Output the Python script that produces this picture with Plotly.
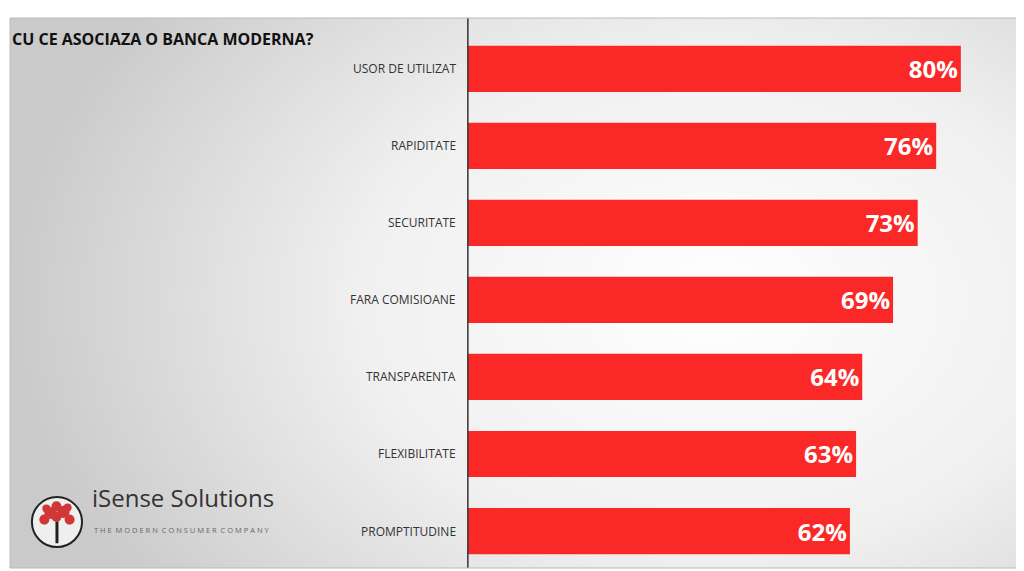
import numpy as np
import plotly.graph_objects as go

categories = ["USOR DE UTILIZAT", "RAPIDITATE", "SECURITATE", "FARA COMISIOANE",
              "TRANSPARENTA", "FLEXIBILITATE", "PROMPTITUDINE"]
values = [80, 76, 73, 69, 64, 63, 62]
title = "CU CE ASOCIAZA O BANCA MODERNA?"

pos = list(range(len(categories)))
x_lo, x_hi = -74.3, 89.6
y_top, y_bot = -0.66, 6.48

# background gradient (grey at the edges, white right of centre)
gx = np.linspace(x_lo, x_hi, 80)
gy = np.linspace(y_top, y_bot, 50)
X, Y = np.meshgrid(gx, gy)
d = np.sqrt(((X - 40) / 115) ** 2 + ((Y - 3) / 6.5) ** 2)
Z = np.clip(d, 0, 1)

fig = go.Figure()
fig.add_trace(go.Heatmap(x=gx, y=gy, z=Z, showscale=False, hoverinfo="skip",
                         colorscale=[[0, "#ffffff"], [0.5, "#f0f0f0"], [1, "#cacaca"]],
                         zmin=0, zmax=1, zsmooth="best"))
fig.add_trace(go.Bar(x=values, y=pos, orientation="h", width=0.6,
                     marker=dict(color="#fb2828", line=dict(width=0)),
                     texttemplate="<b>%{x}%</b>", textposition="inside",
                     insidetextanchor="end",
                     textfont=dict(color="white", size=24, family="Open Sans"),
                     hoverinfo="skip"))

for p, c in zip(pos, categories):
    fig.add_annotation(x=-1.6, y=p, text=c, showarrow=False, xanchor="right",
                       font=dict(size=12, color="#333333", family="Open Sans"))

fig.add_shape(type="line", x0=0, x1=0, y0=y_top, y1=y_bot,
              line=dict(color="#333333", width=1.5))
fig.add_shape(type="rect", xref="paper", yref="paper", x0=0, x1=1, y0=0, y1=1,
              line=dict(color="#bbbbbb", width=1))

fig.add_annotation(xref="paper", yref="paper", x=0.0, y=0.985, xanchor="left",
                   yanchor="top", text="<b>" + title + "</b>", showarrow=False,
                   font=dict(size=16, color="#111111", family="Open Sans"))

# logo
fig.add_shape(type="circle", xref="paper", yref="paper",
              x0=0.0217, x1=0.0713, y0=0.038, y1=0.129,
              line=dict(color="#222222", width=2), fillcolor="rgba(255,255,255,0.7)")
fig.add_shape(type="line", xref="paper", yref="paper", x0=0.0465, x1=0.0465,
              y0=0.045, y1=0.085, line=dict(color="#222222", width=3))
for cx, cy, r in [(0.040, 0.100, 0.006), (0.053, 0.102, 0.006), (0.046, 0.112, 0.005),
                  (0.034, 0.088, 0.005), (0.059, 0.088, 0.005), (0.046, 0.093, 0.005),
                  (0.036, 0.108, 0.004), (0.057, 0.110, 0.004)]:
    fig.add_shape(type="circle", xref="paper", yref="paper",
                  x0=cx - r, x1=cx + r, y0=cy - r * 1.84, y1=cy + r * 1.84,
                  line=dict(width=0), fillcolor="#d03838")
fig.add_annotation(xref="paper", yref="paper", x=0.079, y=0.094, xanchor="left",
                   text="iSense Solutions", showarrow=False,
                   font=dict(size=24, color="#333333", family="Open Sans"))
fig.add_annotation(xref="paper", yref="paper", x=0.081, y=0.057, xanchor="left",
                   text="T H E  M O D E R N  C O N S U M E R  C O M P A N Y", showarrow=False,
                   font=dict(size=7.5, color="#666666", family="Open Sans"))

fig.update_layout(width=1024, height=571, paper_bgcolor="white", plot_bgcolor="white",
                  margin=dict(l=2, r=12, t=10, b=11), showlegend=False,
                  font=dict(family="Open Sans"))
fig.update_xaxes(range=[x_lo, x_hi], visible=False)
fig.update_yaxes(range=[y_bot, y_top], visible=False)
fig.write_html("out.html")
